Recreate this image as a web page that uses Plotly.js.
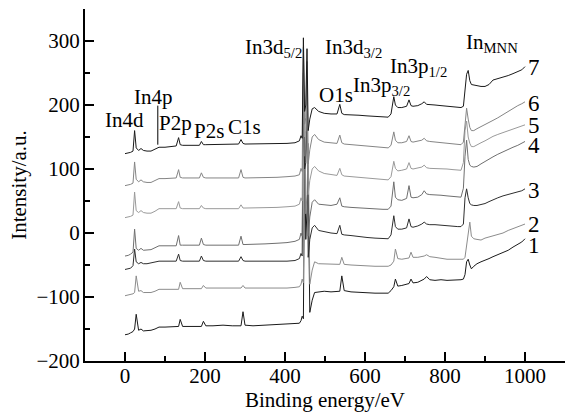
<!DOCTYPE html>
<html>
<head>
<meta charset="utf-8">
<script src="https://cdn.plot.ly/plotly-3.0.1.min.js"></script>
<style>html,body{margin:0;padding:0;background:#fff;}#chart{width:571px;height:413px;}</style>
</head>
<body>
<div id="chart"></div>
<script>
// Binding energy grid (eV)
const energy = [
  0, 8, 14, 20, 24, 28, 34, 40, 46, 55,
  65, 75, 85, 100, 115, 128, 134, 138, 144, 160,
  178, 186, 191, 196, 202, 220, 245, 268, 284, 290,
  295, 300, 320, 350, 380, 405, 425, 436, 440, 443,
  446, 449, 452, 455, 458, 462, 468, 474, 484, 498,
  515, 530, 537, 542, 548, 565, 585, 605, 625, 645,
  658, 665, 672, 676, 682, 692, 704, 710, 715, 720,
  732, 742, 748, 754, 762, 775, 790, 805, 820, 832,
  840, 846, 850, 854, 858, 862, 866, 872, 880, 890,
  900, 910, 920, 932, 945, 958, 970, 982, 992, 1000
];

// Intensity (a.u., offset spectra)
const spectrum1 = [
  -159, -158, -156, -154, -150, -127, -152, -150, -153, -153,
  -152, -150, -147, -147, -147, -146, -146, -135, -146, -146,
  -146, -146, -146, -138, -145, -145, -144, -145, -145, -145,
  -123, -144, -145, -144, -144, -143, -142, -141, -137, -130,
  -134, 130, -10, 40, 80, -124, -105, -93, -92, -91,
  -92, -92, -91, -67, -90, -92, -93, -93, -94, -94,
  -94, -90, -84, -72, -83, -82, -80, -79, -72, -78,
  -77, -74, -72, -68, -73, -74, -73, -74, -74, -73,
  -73, -72, -65, -45, -41, -50, -56, -52, -48, -45,
  -43, -40, -37, -34, -30, -27, -22, -18, -14, -9
];
const spectrum2 = [
  -98, -97, -96, -95, -93, -67, -91, -90, -93, -93,
  -93, -91, -88, -88, -88, -88, -88, -77, -87, -87,
  -87, -87, -87, -82, -86, -86, -86, -85, -86, -86,
  -82, -86, -86, -86, -87, -86, -85, -84, -80, -72,
  -78, 180, 30, 60, 140, -80, -58, -45, -48, -48,
  -48, -49, -49, -38, -49, -50, -51, -51, -52, -52,
  -52, -50, -44, -25, -40, -41, -40, -39, -30, -38,
  -38, -37, -36, -34, -37, -38, -40, -41, -41, -41,
  -41, -41, -38, -20, 0, 17, -5, -9, -10, -11,
  -8, -6, -4, -2, 0, 4, 7, 10, 12, 14
];
const spectrum3 = [
  -57, -56, -55, -51, -25, -45, -48, -46, -48, -48,
  -47, -45, -44, -44, -44, -44, -33, -43, -44, -44,
  -44, -44, -36, -43, -44, -44, -43, -44, -44, -37,
  -43, -44, -44, -44, -45, -44, -43, -40, -32, -36,
  230, 100, 110, 190, -38, -10, 8, 12, 4, 2,
  0, -1, 12, -2, -3, -4, -6, -7, -8, -9,
  -9, -3, 27, 10, 6, 6, 8, 22, 10, 9,
  11, 14, 17, 14, 13, 13, 12, 11, 11, 10,
  10, 14, 55, 69, 55, 46, 44, 43, 43, 44,
  46, 49, 52, 55, 58, 60, 62, 64, 66, 69
];
const spectrum4 = [
  -36, -35, -33, -30, 6, -24, -27, -24, -27, -27,
  -26, -23, -20, -20, -20, -20, -4, -19, -19, -19,
  -19, -19, -8, -18, -19, -19, -18, -19, -19, -5,
  -18, -18, -18, -17, -16, -15, -13, -10, 0, -5,
  250, 120, 130, 215, -5, 25, 48, 52, 45, 44,
  43, 45, 55, 42, 41, 40, 39, 38, 38, 37,
  37, 42, 80, 56, 52, 51, 54, 74, 56, 55,
  56, 60, 66, 61, 60, 60, 59, 58, 57, 56,
  56, 70, 120, 145, 115, 106, 104, 103, 104, 108,
  112, 116, 119, 123, 127, 130, 134, 137, 140, 143
];
const spectrum5 = [
  24, 25, 26, 28, 64, 35, 32, 35, 32, 31,
  31, 34, 38, 38, 38, 38, 49, 39, 38, 38,
  38, 38, 43, 39, 38, 38, 39, 38, 38, 44,
  39, 39, 39, 39, 40, 41, 42, 45, 55, 50,
  275, 150, 160, 245, 60, 82, 100, 104, 97, 93,
  91, 90, 101, 91, 89, 88, 87, 85, 84, 83,
  83, 88, 112, 101, 97, 98, 100, 110, 101, 100,
  101, 103, 106, 102, 101, 101, 100, 100, 99, 98,
  98, 110, 160, 175, 150, 140, 135, 135, 138, 141,
  144, 148, 151, 154, 157, 160, 163, 165, 167, 169
];
const spectrum6 = [
  74, 75, 76, 78, 111, 84, 80, 83, 80, 79,
  79, 82, 85, 85, 86, 86, 99, 87, 86, 86,
  86, 86, 94, 87, 86, 86, 87, 86, 86, 99,
  87, 86, 86, 86, 87, 88, 89, 91, 101, 96,
  290, 170, 180, 268, 108, 130, 150, 154, 146, 142,
  141, 140, 153, 141, 139, 138, 137, 135, 134, 133,
  133, 137, 158, 145, 141, 141, 143, 152, 143, 142,
  143, 145, 148, 144, 143, 142, 141, 140, 139, 138,
  138, 142, 175, 195, 178, 165, 160, 160, 163, 166,
  169, 173, 176, 180, 185, 190, 195, 199, 202, 205
];
const spectrum7 = [
  124, 125, 126, 128, 160, 133, 129, 132, 129, 128,
  128, 131, 134, 134, 135, 136, 149, 138, 137, 137,
  137, 137, 143, 138, 138, 138, 139, 138, 139, 146,
  140, 139, 139, 139, 139, 140, 141, 144, 152, 148,
  305, 190, 200, 288, 160, 178, 194, 196, 190, 187,
  186, 186, 201, 187, 185, 185, 184, 183, 182, 181,
  181, 186, 213, 200, 196, 196, 198, 208, 199, 198,
  199, 202, 205, 201, 201, 200, 199, 198, 197, 196,
  196, 198, 222, 248, 254, 238, 232, 231, 230, 229,
  229, 232, 239, 241, 244, 246, 249, 252, 255, 260
];

const seriesNames = ['1', '2', '3', '4', '5', '6', '7'];
const peakNames = ['In4d', 'In4p', 'P2p', 'P2s', 'C1s', 'In3d<sub>5/2</sub>', 'In3d<sub>3/2</sub>',
                   'O1s', 'In3p<sub>3/2</sub>', 'In3p<sub>1/2</sub>', 'In<sub>MNN</sub>'];

// ---- styling / layout (not data) ----
const allSeries = [spectrum1, spectrum2, spectrum3, spectrum4, spectrum5, spectrum6, spectrum7];
const colors = ['#1a1a1a', '#8c8c8c', '#2e2e2e', '#6f6f6f', '#9a9a9a', '#858585', '#1a1a1a'];

const traces = allSeries.map((s, i) => ({
  x: energy, y: s, type: 'scatter', mode: 'lines', name: seriesNames[i],
  line: {color: colors[i], width: 1}, hoverinfo: 'skip'
}));

const FONT = 'Liberation Serif, Times New Roman, serif';
const peakPos = [[-2, 177], [70, 213], [126, 172], [210, 160], [298, 166], [372, 289], [572, 289],
                 [528, 215], [642, 230], [734, 259], [917, 297]];
const seriesLabelPos = [-20, 14, 66, 137, 168, 203, 258];

const annotations = [];
peakNames.forEach((t, i) => annotations.push({
  x: peakPos[i][0], y: peakPos[i][1], xref: 'x', yref: 'y', text: t, showarrow: false,
  xanchor: 'center', yanchor: 'middle', font: {family: FONT, size: 21, color: '#000'}
}));
seriesNames.forEach((t, i) => annotations.push({
  x: 1023, y: seriesLabelPos[i], xref: 'x', yref: 'y', text: t, showarrow: false,
  xanchor: 'center', yanchor: 'middle', height: 17, borderpad: 0,
  font: {family: FONT, size: 23, color: '#000'}
}));

const layout = {
  width: 571, height: 413,
  margin: {l: 85, r: 6, t: 9, b: 52},
  paper_bgcolor: '#fff', plot_bgcolor: '#fff',
  showlegend: false,
  font: {family: FONT, size: 21, color: '#000'},
  xaxis: {
    range: [-100, 1100], showline: true, linewidth: 2, linecolor: '#000', mirror: false,
    ticks: 'inside', ticklen: 9, tickwidth: 2, tickcolor: '#000',
    tick0: 0, dtick: 200, showgrid: false, zeroline: false,
    minor: {ticks: 'inside', ticklen: 5, tickwidth: 2, tickcolor: '#000', tick0: 0, dtick: 100, showgrid: false},
    tickfont: {family: FONT, size: 21, color: '#000'},
    ticklabelstandoff: -5,
    title: {text: 'Binding energy/eV', font: {family: FONT, size: 21, color: '#000'}, standoff: 2},
    automargin: false
  },
  yaxis: {
    range: [-200, 350], showline: true, linewidth: 2, linecolor: '#000', mirror: false,
    ticks: 'inside', ticklen: 9, tickwidth: 2, tickcolor: '#000',
    tick0: 0, dtick: 100, showgrid: false, zeroline: false,
    minor: {ticks: 'inside', ticklen: 5, tickwidth: 2, tickcolor: '#000', tick0: 0, dtick: 50, showgrid: false},
    tickfont: {family: FONT, size: 21, color: '#000'},
    ticklabelstandoff: -1,
    title: {text: 'Intensity/a.u.', font: {family: FONT, size: 21, color: '#000'}, standoff: 4},
    automargin: false
  },
  shapes: [{type: 'line', xref: 'x', yref: 'y', x0: 82, x1: 82, y0: 138, y1: 199,
            line: {color: '#000', width: 1}}],
  annotations: annotations
};

Plotly.newPlot('chart', traces, layout, {staticPlot: true, displayModeBar: false});
</script>
</body>
</html>
